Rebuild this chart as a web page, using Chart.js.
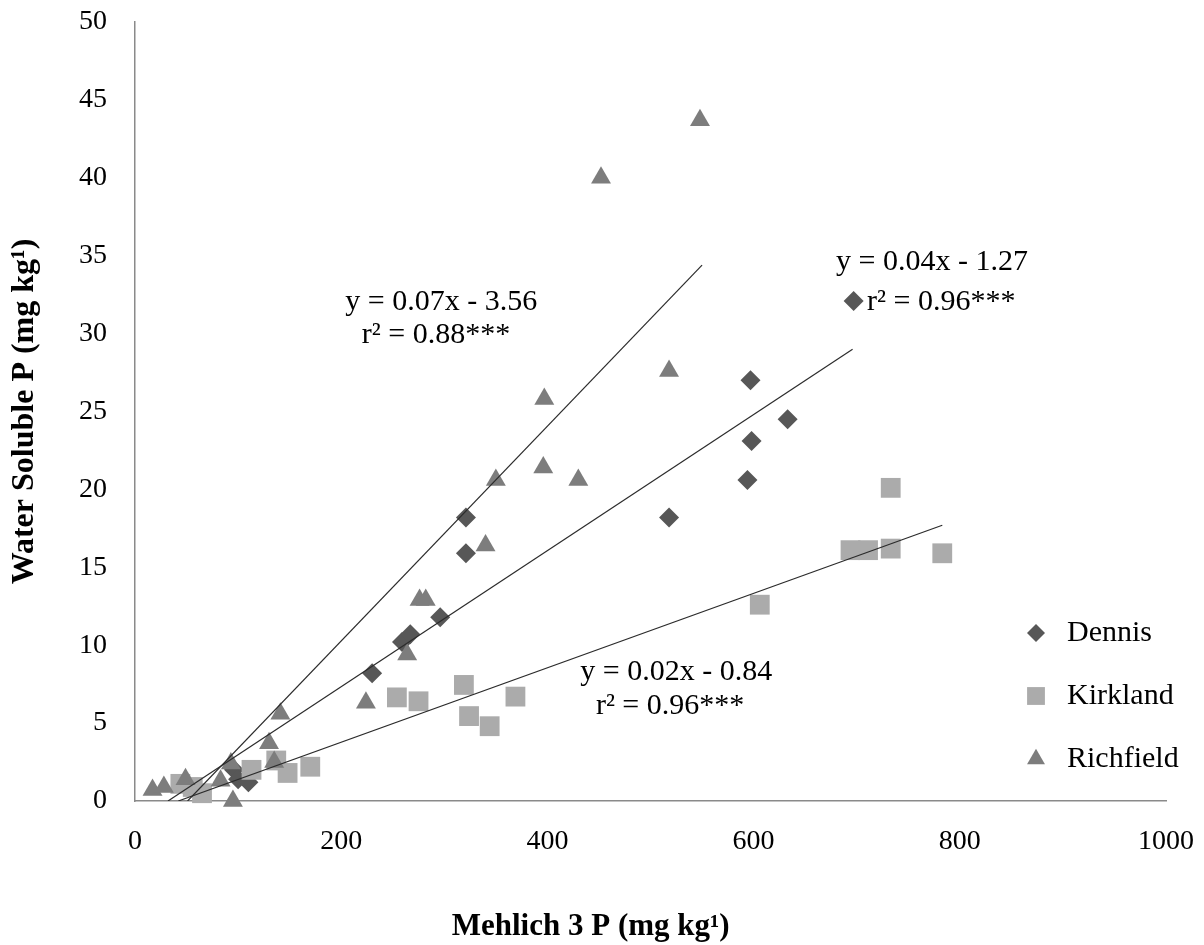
<!DOCTYPE html>
<html>
<head>
<meta charset="utf-8">
<script src="https://cdn.jsdelivr.net/npm/chart.js@4.4.1/dist/chart.umd.min.js"></script>
<style>
  html, body { margin: 0; padding: 0; background: #fff; }
</style>
</head>
<body>
<canvas id="chart" width="1204" height="945"></canvas>
<script>
// values (Mehlich 3 P vs water soluble P, mg/kg)
const dennisX = [96, 100, 110, 230, 259, 267, 296, 321, 321, 518, 594, 598, 597, 633, 697];
const dennisY = [2.0, 1.4, 1.2, 8.2, 10.2, 10.7, 11.8, 15.9, 18.2, 18.2, 20.6, 23.1, 27.0, 24.5, 32.1];

const kirklandX = [44, 56, 65, 113, 137, 148, 170, 254, 275, 319, 324, 344, 369, 606, 694, 711, 733, 733, 783];
const kirklandY = [1.1, 0.9, 0.5, 2.0, 2.6, 1.8, 2.2, 6.65, 6.4, 7.45, 5.45, 4.8, 6.7, 12.6, 16.1, 16.1, 16.2, 20.1, 15.9];

const richfieldX = [17, 28, 49, 83, 93, 95, 130, 135, 141, 224, 264, 276, 282, 340, 350, 396, 397, 430, 452, 518, 548];
const richfieldY = [0.7, 0.9, 1.4, 1.3, 2.4, 0, 3.7, 2.5, 5.6, 6.3, 9.4, 12.9, 12.9, 16.4, 20.6, 21.4, 25.8, 20.6, 40.0, 27.6, 43.7];

// trend line end points as drawn
const dennisFitX = [32, 696];
const dennisFitY = [0, 29.0];
const kirklandFitX = [42, 783];
const kirklandFitY = [0, 17.7];
const richfieldFitX = [51, 550];
const richfieldFitY = [0, 34.4];

const xTicks = [0, 200, 400, 600, 800, 1000];
const yTicks = [0, 5, 10, 15, 20, 25, 30, 35, 40, 45, 50];

// equation labels, anchored in data units
const eqText = ['y = 0.07x - 3.56', 'r² = 0.88***', 'y = 0.04x - 1.27', 'r² = 0.96***', 'y = 0.02x - 0.84', 'r² = 0.96***'];
const eqX = [297, 292, 773, 782, 525, 519];
const eqY = [32.0, 29.9, 34.6, 32.0, 8.3, 6.1];

const xTitle = 'Mehlich 3 P (mg kg¹)';
const yTitle = 'Water Soluble P (mg kg¹)';

const serif = "'Liberation Serif', 'Times New Roman', serif";

function pts(xs, ys) {
  return xs.map((x, i) => ({ x: x, y: ys[i] }));
}

function marker(ctx, style, x, y, r, color) {
  ctx.fillStyle = color;
  ctx.beginPath();
  if (style === 'rectRot') {
    ctx.moveTo(x - r, y); ctx.lineTo(x, y - r); ctx.lineTo(x + r, y); ctx.lineTo(x, y + r);
  } else if (style === 'rect') {
    const s = r * Math.SQRT1_2;
    ctx.rect(x - s, y - s, 2 * s, 2 * s);
  } else {
    const h = r * Math.sin(Math.PI / 3);
    ctx.moveTo(x, y - r); ctx.lineTo(x + h, y + r / 2); ctx.lineTo(x - h, y + r / 2);
  }
  ctx.closePath();
  ctx.fill();
}

// legend inside the plot, lower right
const insideLegend = {
  id: 'insideLegend',
  afterDatasetsDraw(chart) {
    const ctx = chart.ctx;
    const area = chart.chartArea;
    ctx.save();
    ctx.font = '30px ' + serif;
    ctx.textBaseline = 'middle';
    let row = 0;
    chart.data.datasets.forEach(ds => {
      if (ds.showLine) return;
      const y = area.bottom - 168 + row * 63;
      marker(ctx, ds.pointStyle, area.right - 130, y, ds.pointRadius * 0.9, ds.backgroundColor);
      ctx.fillStyle = '#000';
      ctx.fillText(ds.label, area.right - 99, y);
      row++;
    });
    ctx.restore();
  }
};

const equations = {
  id: 'equations',
  afterDatasetsDraw(chart) {
    const ctx = chart.ctx;
    const xs = chart.scales.x, ys = chart.scales.y;
    ctx.save();
    ctx.font = '30px ' + serif;
    ctx.textAlign = 'center';
    ctx.textBaseline = 'middle';
    ctx.fillStyle = '#000';
    eqText.forEach((t, i) => {
      ctx.fillText(t, xs.getPixelForValue(eqX[i]), ys.getPixelForValue(eqY[i]));
    });
    // x axis title sits left of the plot centre in the original
    ctx.font = 'bold 31px ' + serif;
    ctx.fillText(xTitle, xs.getPixelForValue(442), chart.height - 18);
    ctx.restore();
  }
};

// drop the label overhang padding so the plot edges land where the original has them
function noOverhang(s) {
  s.paddingTop = 0; s.paddingBottom = 0; s.paddingLeft = 0; s.paddingRight = 0;
}

const fitLine = { showLine: true, pointRadius: 0, borderColor: '#2b2b2b', borderWidth: 1.2, order: 0, fill: false };

new Chart(document.getElementById('chart'), {
  type: 'scatter',
  data: {
    datasets: [
      { label: 'Dennis', data: pts(dennisX, dennisY), pointStyle: 'rectRot', pointRadius: 10,
        backgroundColor: '#575757', borderWidth: 0, order: 3, clip: false },
      { label: 'Kirkland', data: pts(kirklandX, kirklandY), pointStyle: 'rect', pointRadius: 14,
        backgroundColor: '#ababab', borderWidth: 0, order: 2, clip: false },
      { label: 'Richfield', data: pts(richfieldX, richfieldY), pointStyle: 'triangle', pointRadius: 11.5,
        backgroundColor: '#7d7d7d', borderWidth: 0, order: 1, clip: false },
      Object.assign({ label: 'Dennis fit', data: pts(dennisFitX, dennisFitY) }, fitLine),
      Object.assign({ label: 'Kirkland fit', data: pts(kirklandFitX, kirklandFitY) }, fitLine),
      Object.assign({ label: 'Richfield fit', data: pts(richfieldFitX, richfieldFitY) }, fitLine)
    ]
  },
  options: {
    responsive: false,
    animation: false,
    layout: { padding: { top: 22, right: 38, left: 0, bottom: 0 } },
    plugins: { legend: { display: false }, tooltip: { enabled: false } },
    scales: {
      x: {
        type: 'linear', min: 0, max: 1000,
        afterBuildTicks: s => { s.ticks = xTicks.map(v => ({ value: v })); },
        afterFit: s => { s.height = 144; noOverhang(s); },
        grid: { display: true, drawOnChartArea: false, drawTicks: false },
        border: { display: true, color: '#8a8a8a', width: 1.5 },
        ticks: { color: '#000', padding: 24, font: { family: serif, size: 28 }, maxRotation: 0,
          callback: v => String(v) }
      },
      y: {
        type: 'linear', min: 0, max: 50,
        afterBuildTicks: s => { s.ticks = yTicks.map(v => ({ value: v })); },
        afterFit: s => { s.width = 135; noOverhang(s); },
        grid: { display: true, drawOnChartArea: false, drawTicks: false },
        border: { display: true, color: '#8a8a8a', width: 1.5 },
        ticks: { color: '#000', padding: 28, font: { family: serif, size: 28 } },
        title: { display: true, text: yTitle, color: '#000',
          font: { family: serif, size: 32, weight: 'bold' }, padding: { top: 6, bottom: 0 } }
      }
    }
  },
  plugins: [equations, insideLegend]
});
</script>
</body>
</html>
